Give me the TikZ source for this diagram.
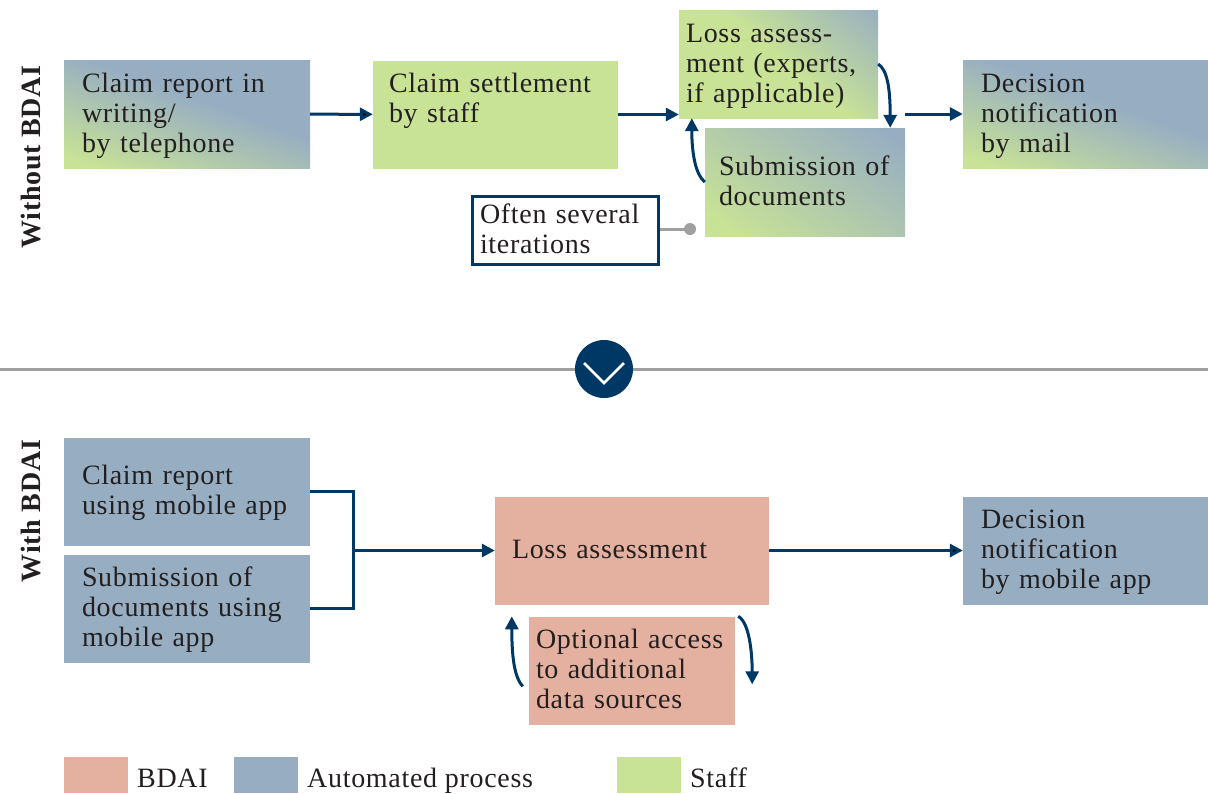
\documentclass[tikz,border=0pt]{standalone}
\usepackage{fontspec}
\setmainfont{Liberation Serif}[LetterSpace=2.5]
\usepackage{tikz}
\usetikzlibrary{arrows.meta}

\definecolor{bdai}{RGB}{228,177,160}
\definecolor{autoblue}{RGB}{151,174,194}
\definecolor{staff}{RGB}{200,226,150}
\definecolor{navy}{RGB}{0,56,101}
\definecolor{ink}{RGB}{35,31,32}
\definecolor{rulegray}{RGB}{160,160,160}

% green to blue blends for the mixed boxes
\pgfdeclarehorizontalshading{mostlyauto}{100bp}{color(0bp)=(staff); color(22bp)=(staff); color(56bp)=(autoblue); color(100bp)=(autoblue)}
\pgfdeclarehorizontalshading{mostlystaff}{100bp}{color(0bp)=(staff); color(52bp)=(staff); color(86bp)=(autoblue); color(100bp)=(autoblue)}
\pgfdeclarehorizontalshading{halfhalf}{100bp}{color(0bp)=(staff); color(22bp)=(staff); color(80bp)=(autoblue); color(100bp)=(autoblue)}

\begin{document}
\begin{tikzpicture}[x=1pt, y=-1pt, font=\fontsize{28}{30}\selectfont, text=ink,
    box/.style={rectangle, inner sep=0pt, minimum height=108pt, align=left,
      execute at begin node=\leavevmode\rule{0pt}{24pt},
      execute at end node=\rule[-8pt]{0pt}{8pt}},
    flow/.style={draw=navy, line width=3pt, -{Triangle[length=13pt,width=13pt]}},
    bracket/.style={draw=navy, line width=3pt, line join=miter},
    key/.style={rectangle, minimum width=64pt, minimum height=36pt, inner sep=0pt}]
\useasboundingbox (0,0) rectangle (1208,793);

%% without BDAI
\node[rotate=90, font=\fontsize{28}{30}\selectfont\bfseries] (without) at (31,157) {Without BDAI};
\node[box, shading=mostlyauto, shading angle=70, minimum width=246pt, text width=210pt] (a) at (187,114) {Claim~report~in\\writing/\\by~telephone};
\node[box, fill=staff, minimum width=245pt, text width=213pt] (b) at (495.5,114.5) {Claim~settlement\\by~staff\\\mbox{}};
\node[box, shading=mostlystaff, shading angle=50, minimum width=199pt, text width=185pt] (c) at (778.5,64) {Loss~assess-\\ment~(experts,\\if~applicable)};
\node[box, shading=halfhalf, shading angle=55, minimum width=200pt, text width=172pt] (d) at (805,182) {Submission~of\\documents};
\node[box, shading=mostlyauto, shading angle=70, minimum width=245pt, text width=209pt] (e) at (1085.5,114) {Decision\\notification\\by~mail};
\node[box, draw=navy, line width=3pt, fill=white, minimum height=68pt, minimum width=186pt, text width=170pt] (note) at (565,230) {Often~several\\iterations};

\path [flow] (a) edge (b);
\draw[flow] (b.east) -- (b.east -| c.west);
\draw[flow] (d.east |- e.west) -- (e.west);
\draw[flow] (c.east) .. controls +(9,6) and +(0,-40) .. ([xshift=-15pt]d.north east);
\draw[flow] (d.west) .. controls +(-9,-7) and +(0,36) .. ([xshift=13pt]c.south west);

\coordinate (dot) at (690,229);
\draw[rulegray, line width=3pt] (note.east |- dot) -- (dot);
\fill[rulegray] (dot) circle (6);

%% divider
\draw[rulegray, line width=3pt] (0,369) -- (1208,369);
\node[circle, fill=navy, minimum size=58pt, inner sep=0pt] (turn) at (604,369) {};
\draw[white, line width=2.5pt] ([shift={(-20,-6)}]turn.center) -- ++(20,20) -- ++(20,-20);

%% with BDAI
\node[rotate=90, font=\fontsize{28}{30}\selectfont\bfseries] (with) at (31,511) {With BDAI};
\node[box, fill=autoblue, minimum width=246pt, text width=210pt] (f) at (187,491.5) {Claim~report\\using~mobile~app};
\node[box, fill=autoblue, minimum width=246pt, text width=210pt] (g) at (187,608.5) {Submission~of\\documents~using\\mobile~app};
\node[box, fill=bdai, minimum width=274pt, text width=240pt] (h) at (632,550.5) {Loss~assessment};
\node[box, fill=autoblue, minimum width=245pt, text width=209pt] (i) at (1085.5,550.5) {Decision\\notification\\by~mobile~app};
\node[box, fill=bdai, minimum width=206pt, text width=192pt] (j) at (632,670.5) {Optional~access\\to~additional\\data~sources};

\draw[bracket] (f.east) -- ++(43,0) |- (g.east);
\coordinate (join) at (353,550.5);
\draw[flow] (join) -- (join -| h.west);
\path [flow] (h) edge (i);
\draw[flow] ([shift={(-6,70)}]j.north west) .. controls +(-10,-10) and +(0,32) .. ([xshift=-17pt]j.north west);
\draw[flow] ([xshift=3pt]j.north east) .. controls +(11,6) and +(0,-32) .. ([shift={(17,68)}]j.north east);

%% legend
\node[key, fill=bdai] (kb) at (96,775) {};
\node[anchor=base west, inner sep=0pt] (lb) at (137,787) {BDAI};
\node[key, fill=autoblue] (ka) at (265.5,775) {};
\node[anchor=base west, inner sep=0pt] (la) at (307,787) {Automated process};
\node[key, fill=staff] (ks) at (649,775) {};
\node[anchor=base west, inner sep=0pt] (ls) at (690,787) {Staff};
\end{tikzpicture}
\end{document}
